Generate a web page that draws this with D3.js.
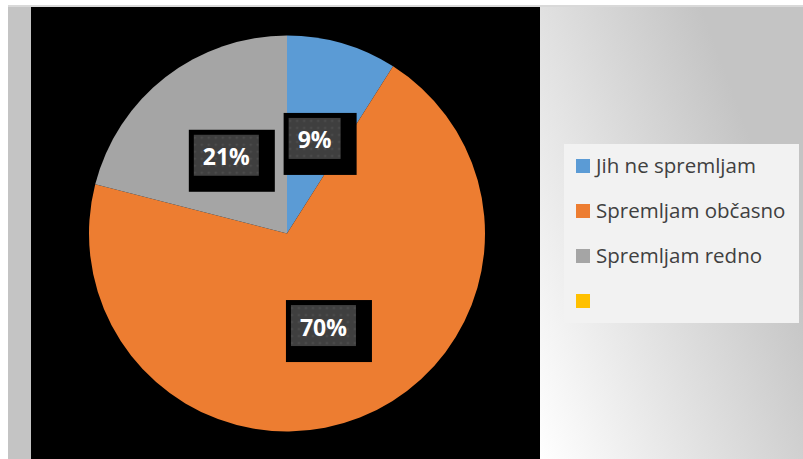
<!DOCTYPE html>
<html>
<head>
<meta charset="utf-8">
<script src="https://cdn.jsdelivr.net/npm/d3@7"></script>
<style>
  html, body { margin: 0; padding: 0; background: #ffffff; }
  svg { display: block; }
</style>
</head>
<body>
<svg id="chart" width="803" height="459"></svg>
<script>
// Survey answers and their shares (percent)
const categories = ["Jih ne spremljam", "Spremljam občasno", "Spremljam redno", ""];
const values = [9, 70, 21, 0];
const colors = ["#5b9bd5", "#ed7d31", "#a5a5a5", "#ffc000"];

const W = 803, H = 459;
const svg = d3.select("#chart");
const defs = svg.append("defs");

// Right-hand background gradient
const grad = defs.append("linearGradient")
  .attr("id", "bgGrad")
  .attr("gradientUnits", "userSpaceOnUse")
  .attr("x1", 540).attr("y1", 459)
  .attr("x2", 830).attr("y2", 350);
grad.append("stop").attr("offset", 0).attr("stop-color", "#ffffff");
grad.append("stop").attr("offset", 1).attr("stop-color", "#c4c4c4");

// Dotted texture for data label boxes
const pat = defs.append("pattern")
  .attr("id", "dots")
  .attr("patternUnits", "userSpaceOnUse")
  .attr("width", 7).attr("height", 7);
pat.append("rect").attr("width", 7).attr("height", 7).attr("fill", "#3f3f3f");
pat.append("circle").attr("cx", 3.5).attr("cy", 3.5).attr("r", 1.1).attr("fill", "#525252");

// Chart frame
const plot = { x0: 31, x1: 540, y0: 7, y1: H };
svg.append("rect").attr("x", 8).attr("y", 5).attr("width", W - 8).attr("height", 2).attr("fill", "#d9d9d9");
svg.append("rect").attr("x", 8).attr("y", 7).attr("width", plot.x0 - 8).attr("height", H - 7).attr("fill", "#c4c4c4");
svg.append("rect").attr("x", plot.x1).attr("y", 7).attr("width", W - plot.x1).attr("height", H - 7).attr("fill", "url(#bgGrad)");
svg.append("rect").attr("x", plot.x0).attr("y", plot.y0)
  .attr("width", plot.x1 - plot.x0).attr("height", plot.y1 - plot.y0).attr("fill", "#000000");

// Pie
const cx = 287, cy = 233.5, radius = 198;
const data = categories.map((c, i) => ({ name: c, value: values[i], color: colors[i] }));
const pie = d3.pie().value(d => d.value).sort(null);
const arc = d3.arc().innerRadius(0).outerRadius(radius);
const arcs = pie(data);

const g = svg.append("g").attr("transform", `translate(${cx},${cy})`);
g.selectAll("path.slice")
  .data(arcs.filter(a => a.data.value > 0))
  .join("path")
  .attr("class", "slice")
  .attr("d", arc)
  .attr("fill", d => d.data.color);

// Data labels: textured box with a black backing
const labelG = g.selectAll("g.lbl")
  .data(arcs.filter(a => a.data.value > 0))
  .join("g")
  .attr("class", "lbl")
  .attr("transform", d => `translate(${arc.centroid(d)})`);

labelG.each(function (d) {
  const sel = d3.select(this);
  const back = sel.append("rect").attr("fill", "#000000");
  const box = sel.append("rect").attr("fill", "url(#dots)");
  const txt = sel.append("text")
    .attr("text-anchor", "middle")
    .attr("dominant-baseline", "central")
    .attr("y", 1)
    .attr("font-family", "'Open Sans', sans-serif")
    .attr("font-weight", "bold")
    .attr("font-size", 23)
    .attr("fill", "#ffffff")
    .text(d3.format(".0f")(d.data.value) + "%");
  const tw = txt.node().getComputedTextLength();
  const bw = Math.round(tw + 18), bh = 41;
  box.attr("x", -bw / 2).attr("y", -bh / 2).attr("width", bw).attr("height", bh);
  back.attr("x", -bw / 2 - 5).attr("y", -bh / 2 - 5).attr("width", bw + 21).attr("height", bh + 21);
});

// Legend
const legend = svg.append("g");
legend.append("rect")
  .attr("x", 564).attr("y", 144).attr("width", 235).attr("height", 179)
  .attr("fill", "#f2f2f2");
const rowY = d3.scalePoint().domain(d3.range(categories.length)).range([166, 301]);
const items = legend.selectAll("g.item")
  .data(data)
  .join("g")
  .attr("class", "item")
  .attr("transform", (d, i) => `translate(576,${rowY(i)})`);
items.append("rect")
  .attr("x", 0).attr("y", -7).attr("width", 14).attr("height", 14)
  .attr("fill", d => d.color);
items.append("text")
  .attr("x", 20).attr("y", 7)
  .attr("font-family", "'Open Sans', sans-serif")
  .attr("font-size", 20.5)
  .attr("fill", "#404040")
  .text(d => d.name);
</script>
</body>
</html>
